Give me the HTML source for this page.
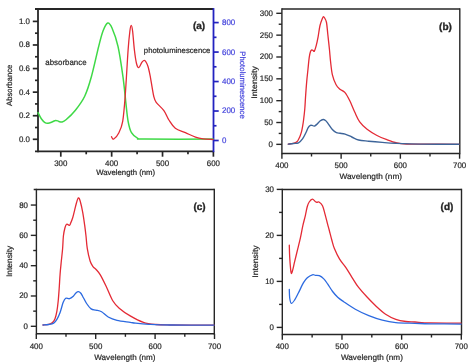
<!DOCTYPE html>
<html><head><meta charset="utf-8"><style>
html,body{margin:0;padding:0;background:#fff;}
svg{display:block;font-family:"Liberation Sans", sans-serif;will-change:transform;text-rendering:geometricPrecision;}
</style></head><body>
<svg width="474" height="364" viewBox="0 0 474 364">
<rect width="474" height="364" fill="#fff"/>
<line x1="32.8" y1="139.3" x2="38" y2="139.3" stroke="#262626" stroke-width="1.7" stroke-linecap="butt"/>
<text x="29.9" y="141.76" font-size="8" text-anchor="end" fill="#262626" font-weight="normal" textLength="11.01" lengthAdjust="spacingAndGlyphs" stroke="#262626" stroke-width="0.2">0.0</text>
<line x1="35" y1="127.51" x2="38" y2="127.51" stroke="#262626" stroke-width="1.7" stroke-linecap="butt"/>
<line x1="32.8" y1="115.72" x2="38" y2="115.72" stroke="#262626" stroke-width="1.7" stroke-linecap="butt"/>
<text x="29.9" y="118.18" font-size="8" text-anchor="end" fill="#262626" font-weight="normal" textLength="11.01" lengthAdjust="spacingAndGlyphs" stroke="#262626" stroke-width="0.2">0.2</text>
<line x1="35" y1="103.93" x2="38" y2="103.93" stroke="#262626" stroke-width="1.7" stroke-linecap="butt"/>
<line x1="32.8" y1="92.14" x2="38" y2="92.14" stroke="#262626" stroke-width="1.7" stroke-linecap="butt"/>
<text x="29.9" y="94.6" font-size="8" text-anchor="end" fill="#262626" font-weight="normal" textLength="11.01" lengthAdjust="spacingAndGlyphs" stroke="#262626" stroke-width="0.2">0.4</text>
<line x1="35" y1="80.35" x2="38" y2="80.35" stroke="#262626" stroke-width="1.7" stroke-linecap="butt"/>
<line x1="32.8" y1="68.56" x2="38" y2="68.56" stroke="#262626" stroke-width="1.7" stroke-linecap="butt"/>
<text x="29.9" y="71.02" font-size="8" text-anchor="end" fill="#262626" font-weight="normal" textLength="11.01" lengthAdjust="spacingAndGlyphs" stroke="#262626" stroke-width="0.2">0.6</text>
<line x1="35" y1="56.77" x2="38" y2="56.77" stroke="#262626" stroke-width="1.7" stroke-linecap="butt"/>
<line x1="32.8" y1="44.98" x2="38" y2="44.98" stroke="#262626" stroke-width="1.7" stroke-linecap="butt"/>
<text x="29.9" y="47.44" font-size="8" text-anchor="end" fill="#262626" font-weight="normal" textLength="11.01" lengthAdjust="spacingAndGlyphs" stroke="#262626" stroke-width="0.2">0.8</text>
<line x1="35" y1="33.19" x2="38" y2="33.19" stroke="#262626" stroke-width="1.7" stroke-linecap="butt"/>
<line x1="32.8" y1="21.4" x2="38" y2="21.4" stroke="#262626" stroke-width="1.7" stroke-linecap="butt"/>
<text x="29.9" y="23.86" font-size="8" text-anchor="end" fill="#262626" font-weight="normal" textLength="11.01" lengthAdjust="spacingAndGlyphs" stroke="#262626" stroke-width="0.2">1.0</text>
<line x1="60.79" y1="151.3" x2="60.79" y2="156.7" stroke="#262626" stroke-width="1.7" stroke-linecap="butt"/>
<text x="60.79" y="165.66" font-size="8" text-anchor="middle" fill="#262626" font-weight="normal" textLength="13.21" lengthAdjust="spacingAndGlyphs" stroke="#262626" stroke-width="0.2">300</text>
<line x1="86.22" y1="151.3" x2="86.22" y2="154.3" stroke="#262626" stroke-width="1.7" stroke-linecap="butt"/>
<line x1="111.66" y1="151.3" x2="111.66" y2="156.7" stroke="#262626" stroke-width="1.7" stroke-linecap="butt"/>
<text x="111.66" y="165.66" font-size="8" text-anchor="middle" fill="#262626" font-weight="normal" textLength="13.21" lengthAdjust="spacingAndGlyphs" stroke="#262626" stroke-width="0.2">400</text>
<line x1="137.09" y1="151.3" x2="137.09" y2="154.3" stroke="#262626" stroke-width="1.7" stroke-linecap="butt"/>
<line x1="162.53" y1="151.3" x2="162.53" y2="156.7" stroke="#262626" stroke-width="1.7" stroke-linecap="butt"/>
<text x="162.53" y="165.66" font-size="8" text-anchor="middle" fill="#262626" font-weight="normal" textLength="13.21" lengthAdjust="spacingAndGlyphs" stroke="#262626" stroke-width="0.2">500</text>
<line x1="187.97" y1="151.3" x2="187.97" y2="154.3" stroke="#262626" stroke-width="1.7" stroke-linecap="butt"/>
<line x1="213.4" y1="151.3" x2="213.4" y2="156.7" stroke="#262626" stroke-width="1.7" stroke-linecap="butt"/>
<text x="213.4" y="165.66" font-size="8" text-anchor="middle" fill="#262626" font-weight="normal" textLength="13.21" lengthAdjust="spacingAndGlyphs" stroke="#262626" stroke-width="0.2">600</text>
<line x1="213.5" y1="140.5" x2="218.7" y2="140.5" stroke="#2323c0" stroke-width="1.7" stroke-linecap="butt"/>
<text x="222" y="142.96" font-size="8" text-anchor="start" fill="#4343dc" font-weight="normal" textLength="4.4" lengthAdjust="spacingAndGlyphs" stroke="#4343dc" stroke-width="0.2">0</text>
<line x1="213.5" y1="125.76" x2="216.5" y2="125.76" stroke="#2323c0" stroke-width="1.7" stroke-linecap="butt"/>
<line x1="213.5" y1="111.02" x2="218.7" y2="111.02" stroke="#2323c0" stroke-width="1.7" stroke-linecap="butt"/>
<text x="222" y="113.48" font-size="8" text-anchor="start" fill="#4343dc" font-weight="normal" textLength="13.21" lengthAdjust="spacingAndGlyphs" stroke="#4343dc" stroke-width="0.2">200</text>
<line x1="213.5" y1="96.28" x2="216.5" y2="96.28" stroke="#2323c0" stroke-width="1.7" stroke-linecap="butt"/>
<line x1="213.5" y1="81.54" x2="218.7" y2="81.54" stroke="#2323c0" stroke-width="1.7" stroke-linecap="butt"/>
<text x="222" y="84" font-size="8" text-anchor="start" fill="#4343dc" font-weight="normal" textLength="13.21" lengthAdjust="spacingAndGlyphs" stroke="#4343dc" stroke-width="0.2">400</text>
<line x1="213.5" y1="66.8" x2="216.5" y2="66.8" stroke="#2323c0" stroke-width="1.7" stroke-linecap="butt"/>
<line x1="213.5" y1="52.06" x2="218.7" y2="52.06" stroke="#2323c0" stroke-width="1.7" stroke-linecap="butt"/>
<text x="222" y="54.52" font-size="8" text-anchor="start" fill="#4343dc" font-weight="normal" textLength="13.21" lengthAdjust="spacingAndGlyphs" stroke="#4343dc" stroke-width="0.2">600</text>
<line x1="213.5" y1="37.32" x2="216.5" y2="37.32" stroke="#2323c0" stroke-width="1.7" stroke-linecap="butt"/>
<line x1="213.5" y1="22.58" x2="218.7" y2="22.58" stroke="#2323c0" stroke-width="1.7" stroke-linecap="butt"/>
<text x="222" y="25.04" font-size="8" text-anchor="start" fill="#4343dc" font-weight="normal" textLength="13.21" lengthAdjust="spacingAndGlyphs" stroke="#4343dc" stroke-width="0.2">800</text>
<line x1="35" y1="9" x2="213.5" y2="9" stroke="#262626" stroke-width="1.8" stroke-linecap="butt"/>
<line x1="35" y1="151.3" x2="213.5" y2="151.3" stroke="#262626" stroke-width="1.7" stroke-linecap="butt"/>
<line x1="38" y1="8.1" x2="38" y2="152.15" stroke="#262626" stroke-width="1.8" stroke-linecap="butt"/>
<line x1="213.5" y1="8.1" x2="213.5" y2="152.15" stroke="#2323c0" stroke-width="1.8" stroke-linecap="butt"/>
<text x="125.7" y="175.14" font-size="7.8" text-anchor="middle" fill="#262626" font-weight="normal" textLength="59" lengthAdjust="spacingAndGlyphs" stroke="#262626" stroke-width="0.2">Wavelength (nm)</text>
<text x="11.84" y="85.3" font-size="7.8" text-anchor="middle" fill="#262626" font-weight="normal" transform="rotate(-90 11.84 85.3)" textLength="41.4" lengthAdjust="spacingAndGlyphs" stroke="#262626" stroke-width="0.2">Absorbance</text>
<text x="240.16" y="85" font-size="7.8" text-anchor="middle" fill="#4343dc" font-weight="normal" transform="rotate(90 240.16 85)" textLength="67.5" lengthAdjust="spacingAndGlyphs" stroke="#4343dc" stroke-width="0.2">Photoluminescence</text>
<text x="199.1" y="28.6" font-size="10" text-anchor="middle" fill="#262626" font-weight="bold" stroke="#262626" stroke-width="0.35">(a)</text>
<text x="65.9" y="65.4" font-size="8" text-anchor="middle" fill="#262626" font-weight="normal" textLength="41.3" lengthAdjust="spacingAndGlyphs" stroke="#262626" stroke-width="0.2">absorbance</text>
<text x="177.1" y="53.14" font-size="7.8" text-anchor="middle" fill="#262626" font-weight="normal" textLength="66.5" lengthAdjust="spacingAndGlyphs" stroke="#262626" stroke-width="0.2">photoluminescence</text>
<path d="M38 112.6 C38.58 113.67 40.33 117.33 41.5 119 C42.67 120.67 43.92 121.9 45 122.6 C46.08 123.3 46.83 123.3 48 123.2 C49.17 123.1 50.72 122.47 52 122 C53.28 121.53 54.57 120.5 55.7 120.4 C56.83 120.3 57.78 121.13 58.8 121.4 C59.82 121.67 60.6 122.27 61.8 122 C63 121.73 63.73 121.77 66 119.8 C68.27 117.83 72.28 114.13 75.4 110.2 C78.52 106.27 82.05 101.73 84.7 96.2 C87.35 90.67 88.97 85.3 91.3 77 C93.63 68.7 96.75 54.07 98.7 46.4 C100.65 38.73 101.5 34.9 103 31 C104.5 27.1 106.2 23.5 107.7 23 C109.2 22.5 110.28 24.1 112 28 C113.72 31.9 116.17 38.23 118 46.4 C119.83 54.57 121.7 67.68 123 77 C124.3 86.32 124.95 94.92 125.8 102.3 C126.65 109.68 127.15 116.23 128.1 121.3 C129.05 126.37 129.88 129.85 131.5 132.7 C133.12 135.55 135.55 137.33 137.8 138.4 C140.05 139.47 132.47 138.98 145 139.1 C157.53 139.22 201.67 139.1 213 139.1" fill="none" stroke="#3ed946" stroke-width="1.5" stroke-linejoin="round" stroke-linecap="round"/>
<path d="M111.5 136.8 C111.88 137.17 112.57 139.68 113.8 139 C115.03 138.32 117.42 135.65 118.9 132.7 C120.38 129.75 121.65 127.42 122.7 121.3 C123.75 115.18 124.3 107.88 125.2 96 C126.1 84.12 127.32 60.83 128.1 50 C128.88 39.17 129.38 35.1 129.9 31 C130.42 26.9 130.75 25.4 131.2 25.4 C131.65 25.4 132.07 26.9 132.6 31 C133.13 35.1 133.75 44.58 134.4 50 C135.05 55.42 135.77 60.57 136.5 63.5 C137.23 66.43 137.92 67.77 138.8 67.6 C139.68 67.43 140.82 63.68 141.8 62.5 C142.78 61.32 143.67 59.83 144.7 60.5 C145.73 61.17 147.03 63.62 148 66.5 C148.97 69.38 149.55 72.88 150.5 77.8 C151.45 82.72 152.75 91.92 153.7 96 C154.65 100.08 154.5 99.87 156.2 102.3 C157.9 104.73 161.78 107.65 163.9 110.6 C166.02 113.55 167 117.05 168.9 120 C170.8 122.95 172.55 126.18 175.3 128.3 C178.05 130.42 182.03 131.23 185.4 132.7 C188.77 134.17 192.55 136.08 195.5 137.1 C198.45 138.12 200.18 138.4 203.1 138.8 C206.02 139.2 211.35 139.38 213 139.5" fill="none" stroke="#e42a35" stroke-width="1.3" stroke-linejoin="round" stroke-linecap="round"/>
<line x1="281.9" y1="9" x2="459.8" y2="9" stroke="#262626" stroke-width="1.4" stroke-linecap="butt"/>
<line x1="281.9" y1="153.5" x2="459.8" y2="153.5" stroke="#262626" stroke-width="1.4" stroke-linecap="butt"/>
<line x1="281.9" y1="8.3" x2="281.9" y2="154.2" stroke="#262626" stroke-width="1.4" stroke-linecap="butt"/>
<line x1="459.8" y1="8.3" x2="459.8" y2="154.2" stroke="#262626" stroke-width="1.4" stroke-linecap="butt"/>
<line x1="276.3" y1="144.35" x2="281.9" y2="144.35" stroke="#262626" stroke-width="1.4" stroke-linecap="butt"/>
<text x="273" y="146.81" font-size="8" text-anchor="end" fill="#262626" font-weight="normal" textLength="4.4" lengthAdjust="spacingAndGlyphs" stroke="#262626" stroke-width="0.2">0</text>
<line x1="278.7" y1="133.43" x2="281.9" y2="133.43" stroke="#262626" stroke-width="1.4" stroke-linecap="butt"/>
<line x1="276.3" y1="122.51" x2="281.9" y2="122.51" stroke="#262626" stroke-width="1.4" stroke-linecap="butt"/>
<text x="273" y="124.97" font-size="8" text-anchor="end" fill="#262626" font-weight="normal" textLength="8.81" lengthAdjust="spacingAndGlyphs" stroke="#262626" stroke-width="0.2">50</text>
<line x1="278.7" y1="111.59" x2="281.9" y2="111.59" stroke="#262626" stroke-width="1.4" stroke-linecap="butt"/>
<line x1="276.3" y1="100.67" x2="281.9" y2="100.67" stroke="#262626" stroke-width="1.4" stroke-linecap="butt"/>
<text x="273" y="103.13" font-size="8" text-anchor="end" fill="#262626" font-weight="normal" textLength="13.21" lengthAdjust="spacingAndGlyphs" stroke="#262626" stroke-width="0.2">100</text>
<line x1="278.7" y1="89.75" x2="281.9" y2="89.75" stroke="#262626" stroke-width="1.4" stroke-linecap="butt"/>
<line x1="276.3" y1="78.83" x2="281.9" y2="78.83" stroke="#262626" stroke-width="1.4" stroke-linecap="butt"/>
<text x="273" y="81.29" font-size="8" text-anchor="end" fill="#262626" font-weight="normal" textLength="13.21" lengthAdjust="spacingAndGlyphs" stroke="#262626" stroke-width="0.2">150</text>
<line x1="278.7" y1="67.91" x2="281.9" y2="67.91" stroke="#262626" stroke-width="1.4" stroke-linecap="butt"/>
<line x1="276.3" y1="56.99" x2="281.9" y2="56.99" stroke="#262626" stroke-width="1.4" stroke-linecap="butt"/>
<text x="273" y="59.45" font-size="8" text-anchor="end" fill="#262626" font-weight="normal" textLength="13.21" lengthAdjust="spacingAndGlyphs" stroke="#262626" stroke-width="0.2">200</text>
<line x1="278.7" y1="46.07" x2="281.9" y2="46.07" stroke="#262626" stroke-width="1.4" stroke-linecap="butt"/>
<line x1="276.3" y1="35.15" x2="281.9" y2="35.15" stroke="#262626" stroke-width="1.4" stroke-linecap="butt"/>
<text x="273" y="37.61" font-size="8" text-anchor="end" fill="#262626" font-weight="normal" textLength="13.21" lengthAdjust="spacingAndGlyphs" stroke="#262626" stroke-width="0.2">250</text>
<line x1="278.7" y1="24.23" x2="281.9" y2="24.23" stroke="#262626" stroke-width="1.4" stroke-linecap="butt"/>
<line x1="276.3" y1="13.31" x2="281.9" y2="13.31" stroke="#262626" stroke-width="1.4" stroke-linecap="butt"/>
<text x="273" y="15.77" font-size="8" text-anchor="end" fill="#262626" font-weight="normal" textLength="13.21" lengthAdjust="spacingAndGlyphs" stroke="#262626" stroke-width="0.2">300</text>
<line x1="281.9" y1="153.5" x2="281.9" y2="158.7" stroke="#262626" stroke-width="1.4" stroke-linecap="butt"/>
<text x="281.9" y="168.06" font-size="8" text-anchor="middle" fill="#262626" font-weight="normal" textLength="13.21" lengthAdjust="spacingAndGlyphs" stroke="#262626" stroke-width="0.2">400</text>
<line x1="311.51" y1="153.5" x2="311.51" y2="156.5" stroke="#262626" stroke-width="1.4" stroke-linecap="butt"/>
<line x1="341.13" y1="153.5" x2="341.13" y2="158.7" stroke="#262626" stroke-width="1.4" stroke-linecap="butt"/>
<text x="341.13" y="168.06" font-size="8" text-anchor="middle" fill="#262626" font-weight="normal" textLength="13.21" lengthAdjust="spacingAndGlyphs" stroke="#262626" stroke-width="0.2">500</text>
<line x1="370.75" y1="153.5" x2="370.75" y2="156.5" stroke="#262626" stroke-width="1.4" stroke-linecap="butt"/>
<line x1="400.36" y1="153.5" x2="400.36" y2="158.7" stroke="#262626" stroke-width="1.4" stroke-linecap="butt"/>
<text x="400.36" y="168.06" font-size="8" text-anchor="middle" fill="#262626" font-weight="normal" textLength="13.21" lengthAdjust="spacingAndGlyphs" stroke="#262626" stroke-width="0.2">600</text>
<line x1="429.98" y1="153.5" x2="429.98" y2="156.5" stroke="#262626" stroke-width="1.4" stroke-linecap="butt"/>
<line x1="459.59" y1="153.5" x2="459.59" y2="158.7" stroke="#262626" stroke-width="1.4" stroke-linecap="butt"/>
<text x="459.59" y="168.06" font-size="8" text-anchor="middle" fill="#262626" font-weight="normal" textLength="13.21" lengthAdjust="spacingAndGlyphs" stroke="#262626" stroke-width="0.2">700</text>
<text x="370.8" y="179.2" font-size="8" text-anchor="middle" fill="#262626" font-weight="normal" textLength="62.5" lengthAdjust="spacingAndGlyphs" stroke="#262626" stroke-width="0.2">Wavelength (nm)</text>
<text x="256.8" y="82.4" font-size="8" text-anchor="middle" fill="#262626" font-weight="normal" transform="rotate(-90 256.8 82.4)" textLength="32.5" lengthAdjust="spacingAndGlyphs" stroke="#262626" stroke-width="0.2">Intensity</text>
<text x="445.5" y="29.7" font-size="10" text-anchor="middle" fill="#262626" font-weight="bold" stroke="#262626" stroke-width="0.35">(b)</text>
<line x1="33.7" y1="189.5" x2="214.3" y2="189.5" stroke="#262626" stroke-width="1.4" stroke-linecap="butt"/>
<line x1="36.4" y1="333.8" x2="214.3" y2="333.8" stroke="#262626" stroke-width="1.4" stroke-linecap="butt"/>
<line x1="36.4" y1="188.8" x2="36.4" y2="334.5" stroke="#262626" stroke-width="1.4" stroke-linecap="butt"/>
<line x1="214.3" y1="188.8" x2="214.3" y2="334.5" stroke="#262626" stroke-width="1.4" stroke-linecap="butt"/>
<line x1="30.8" y1="326.3" x2="36.4" y2="326.3" stroke="#262626" stroke-width="1.4" stroke-linecap="butt"/>
<text x="28" y="328.76" font-size="8" text-anchor="end" fill="#262626" font-weight="normal" textLength="4.4" lengthAdjust="spacingAndGlyphs" stroke="#262626" stroke-width="0.2">0</text>
<line x1="33.2" y1="311.14" x2="36.4" y2="311.14" stroke="#262626" stroke-width="1.4" stroke-linecap="butt"/>
<line x1="30.8" y1="295.99" x2="36.4" y2="295.99" stroke="#262626" stroke-width="1.4" stroke-linecap="butt"/>
<text x="28" y="298.45" font-size="8" text-anchor="end" fill="#262626" font-weight="normal" textLength="8.81" lengthAdjust="spacingAndGlyphs" stroke="#262626" stroke-width="0.2">20</text>
<line x1="33.2" y1="280.83" x2="36.4" y2="280.83" stroke="#262626" stroke-width="1.4" stroke-linecap="butt"/>
<line x1="30.8" y1="265.68" x2="36.4" y2="265.68" stroke="#262626" stroke-width="1.4" stroke-linecap="butt"/>
<text x="28" y="268.14" font-size="8" text-anchor="end" fill="#262626" font-weight="normal" textLength="8.81" lengthAdjust="spacingAndGlyphs" stroke="#262626" stroke-width="0.2">40</text>
<line x1="33.2" y1="250.52" x2="36.4" y2="250.52" stroke="#262626" stroke-width="1.4" stroke-linecap="butt"/>
<line x1="30.8" y1="235.36" x2="36.4" y2="235.36" stroke="#262626" stroke-width="1.4" stroke-linecap="butt"/>
<text x="28" y="237.83" font-size="8" text-anchor="end" fill="#262626" font-weight="normal" textLength="8.81" lengthAdjust="spacingAndGlyphs" stroke="#262626" stroke-width="0.2">60</text>
<line x1="33.2" y1="220.21" x2="36.4" y2="220.21" stroke="#262626" stroke-width="1.4" stroke-linecap="butt"/>
<line x1="30.8" y1="205.05" x2="36.4" y2="205.05" stroke="#262626" stroke-width="1.4" stroke-linecap="butt"/>
<text x="28" y="207.52" font-size="8" text-anchor="end" fill="#262626" font-weight="normal" textLength="8.81" lengthAdjust="spacingAndGlyphs" stroke="#262626" stroke-width="0.2">80</text>
<line x1="36.3" y1="333.8" x2="36.3" y2="339" stroke="#262626" stroke-width="1.4" stroke-linecap="butt"/>
<text x="36.3" y="348.96" font-size="8" text-anchor="middle" fill="#262626" font-weight="normal" textLength="13.21" lengthAdjust="spacingAndGlyphs" stroke="#262626" stroke-width="0.2">400</text>
<line x1="66" y1="333.8" x2="66" y2="336.8" stroke="#262626" stroke-width="1.4" stroke-linecap="butt"/>
<line x1="95.7" y1="333.8" x2="95.7" y2="339" stroke="#262626" stroke-width="1.4" stroke-linecap="butt"/>
<text x="95.7" y="348.96" font-size="8" text-anchor="middle" fill="#262626" font-weight="normal" textLength="13.21" lengthAdjust="spacingAndGlyphs" stroke="#262626" stroke-width="0.2">500</text>
<line x1="125.4" y1="333.8" x2="125.4" y2="336.8" stroke="#262626" stroke-width="1.4" stroke-linecap="butt"/>
<line x1="155.1" y1="333.8" x2="155.1" y2="339" stroke="#262626" stroke-width="1.4" stroke-linecap="butt"/>
<text x="155.1" y="348.96" font-size="8" text-anchor="middle" fill="#262626" font-weight="normal" textLength="13.21" lengthAdjust="spacingAndGlyphs" stroke="#262626" stroke-width="0.2">600</text>
<line x1="184.8" y1="333.8" x2="184.8" y2="336.8" stroke="#262626" stroke-width="1.4" stroke-linecap="butt"/>
<line x1="214.5" y1="333.8" x2="214.5" y2="339" stroke="#262626" stroke-width="1.4" stroke-linecap="butt"/>
<text x="214.5" y="348.96" font-size="8" text-anchor="middle" fill="#262626" font-weight="normal" textLength="13.21" lengthAdjust="spacingAndGlyphs" stroke="#262626" stroke-width="0.2">700</text>
<text x="124.9" y="360.1" font-size="8" text-anchor="middle" fill="#262626" font-weight="normal" textLength="61.2" lengthAdjust="spacingAndGlyphs" stroke="#262626" stroke-width="0.2">Wavelength (nm)</text>
<text x="11.9" y="261.4" font-size="8" text-anchor="middle" fill="#262626" font-weight="normal" transform="rotate(-90 11.9 261.4)" textLength="31.2" lengthAdjust="spacingAndGlyphs" stroke="#262626" stroke-width="0.2">Intensity</text>
<text x="199.6" y="209.8" font-size="10" text-anchor="middle" fill="#262626" font-weight="bold" stroke="#262626" stroke-width="0.35">(c)</text>
<line x1="282.3" y1="189.45" x2="461.5" y2="189.45" stroke="#262626" stroke-width="1.4" stroke-linecap="butt"/>
<line x1="282.3" y1="334.5" x2="461.5" y2="334.5" stroke="#262626" stroke-width="1.4" stroke-linecap="butt"/>
<line x1="282.3" y1="188.75" x2="282.3" y2="335.2" stroke="#262626" stroke-width="1.4" stroke-linecap="butt"/>
<line x1="461.5" y1="188.75" x2="461.5" y2="335.2" stroke="#262626" stroke-width="1.4" stroke-linecap="butt"/>
<line x1="276.7" y1="327.4" x2="282.3" y2="327.4" stroke="#262626" stroke-width="1.4" stroke-linecap="butt"/>
<text x="274" y="329.86" font-size="8" text-anchor="end" fill="#262626" font-weight="normal" textLength="4.4" lengthAdjust="spacingAndGlyphs" stroke="#262626" stroke-width="0.2">0</text>
<line x1="279.1" y1="304.4" x2="282.3" y2="304.4" stroke="#262626" stroke-width="1.4" stroke-linecap="butt"/>
<line x1="276.7" y1="281.4" x2="282.3" y2="281.4" stroke="#262626" stroke-width="1.4" stroke-linecap="butt"/>
<text x="274" y="283.86" font-size="8" text-anchor="end" fill="#262626" font-weight="normal" textLength="8.81" lengthAdjust="spacingAndGlyphs" stroke="#262626" stroke-width="0.2">10</text>
<line x1="279.1" y1="258.4" x2="282.3" y2="258.4" stroke="#262626" stroke-width="1.4" stroke-linecap="butt"/>
<line x1="276.7" y1="235.4" x2="282.3" y2="235.4" stroke="#262626" stroke-width="1.4" stroke-linecap="butt"/>
<text x="274" y="237.86" font-size="8" text-anchor="end" fill="#262626" font-weight="normal" textLength="8.81" lengthAdjust="spacingAndGlyphs" stroke="#262626" stroke-width="0.2">20</text>
<line x1="279.1" y1="212.4" x2="282.3" y2="212.4" stroke="#262626" stroke-width="1.4" stroke-linecap="butt"/>
<line x1="276.7" y1="189.4" x2="282.3" y2="189.4" stroke="#262626" stroke-width="1.4" stroke-linecap="butt"/>
<text x="274" y="191.86" font-size="8" text-anchor="end" fill="#262626" font-weight="normal" textLength="8.81" lengthAdjust="spacingAndGlyphs" stroke="#262626" stroke-width="0.2">30</text>
<line x1="282.3" y1="334.5" x2="282.3" y2="339.7" stroke="#262626" stroke-width="1.4" stroke-linecap="butt"/>
<text x="282.3" y="349.36" font-size="8" text-anchor="middle" fill="#262626" font-weight="normal" textLength="13.21" lengthAdjust="spacingAndGlyphs" stroke="#262626" stroke-width="0.2">400</text>
<line x1="312.13" y1="334.5" x2="312.13" y2="337.5" stroke="#262626" stroke-width="1.4" stroke-linecap="butt"/>
<line x1="341.97" y1="334.5" x2="341.97" y2="339.7" stroke="#262626" stroke-width="1.4" stroke-linecap="butt"/>
<text x="341.97" y="349.36" font-size="8" text-anchor="middle" fill="#262626" font-weight="normal" textLength="13.21" lengthAdjust="spacingAndGlyphs" stroke="#262626" stroke-width="0.2">500</text>
<line x1="371.81" y1="334.5" x2="371.81" y2="337.5" stroke="#262626" stroke-width="1.4" stroke-linecap="butt"/>
<line x1="401.64" y1="334.5" x2="401.64" y2="339.7" stroke="#262626" stroke-width="1.4" stroke-linecap="butt"/>
<text x="401.64" y="349.36" font-size="8" text-anchor="middle" fill="#262626" font-weight="normal" textLength="13.21" lengthAdjust="spacingAndGlyphs" stroke="#262626" stroke-width="0.2">600</text>
<line x1="431.48" y1="334.5" x2="431.48" y2="337.5" stroke="#262626" stroke-width="1.4" stroke-linecap="butt"/>
<line x1="461.31" y1="334.5" x2="461.31" y2="339.7" stroke="#262626" stroke-width="1.4" stroke-linecap="butt"/>
<text x="461.31" y="349.36" font-size="8" text-anchor="middle" fill="#262626" font-weight="normal" textLength="13.21" lengthAdjust="spacingAndGlyphs" stroke="#262626" stroke-width="0.2">700</text>
<text x="371.9" y="360.1" font-size="8" text-anchor="middle" fill="#262626" font-weight="normal" textLength="62" lengthAdjust="spacingAndGlyphs" stroke="#262626" stroke-width="0.2">Wavelength (nm)</text>
<text x="257.6" y="261.5" font-size="8" text-anchor="middle" fill="#262626" font-weight="normal" transform="rotate(-90 257.6 261.5)" textLength="32.3" lengthAdjust="spacingAndGlyphs" stroke="#262626" stroke-width="0.2">Intensity</text>
<text x="447" y="209.8" font-size="10" text-anchor="middle" fill="#262626" font-weight="bold" stroke="#262626" stroke-width="0.35">(d)</text>
<path d="M288.3 144.1 C289.15 143.98 291.92 143.83 293.4 143.4 C294.88 142.97 296.25 142.35 297.2 141.5 C298.15 140.65 298.57 139.35 299.1 138.3 C299.63 137.25 299.98 136.35 300.4 135.2 C300.82 134.05 301.23 132.88 301.6 131.4 C301.97 129.92 302.28 128.12 302.6 126.3 C302.92 124.48 303.13 123.43 303.5 120.5 C303.87 117.57 304.45 112.78 304.8 108.7 C305.15 104.62 305.28 100.52 305.6 96 C305.92 91.48 306.3 86.1 306.7 81.6 C307.1 77.1 307.58 73 308 69 C308.42 65 308.78 60.52 309.2 57.6 C309.62 54.68 310.07 52.78 310.5 51.5 C310.93 50.22 311.35 50.05 311.8 49.9 C312.25 49.75 312.77 50.4 313.2 50.6 C313.63 50.8 313.9 51.92 314.4 51.1 C314.9 50.28 315.58 48.08 316.2 45.7 C316.82 43.32 317.47 40.17 318.1 36.8 C318.73 33.43 319.25 28.63 320 25.5 C320.75 22.37 322.02 19.48 322.6 18 C323.18 16.52 323.18 16.63 323.5 16.6 C323.82 16.57 324 16.82 324.5 17.8 C325 18.78 325.95 19.75 326.5 22.5 C327.05 25.25 327.3 29.72 327.8 34.3 C328.3 38.88 329.05 45.55 329.5 50 C329.95 54.45 330.02 56.85 330.5 61 C330.98 65.15 331.47 70.93 332.4 74.9 C333.33 78.87 334.85 82.42 336.1 84.8 C337.35 87.18 338.45 87.93 339.9 89.2 C341.35 90.47 343.15 90.47 344.8 92.4 C346.45 94.33 348.15 97.53 349.8 100.8 C351.45 104.07 353.05 108.48 354.7 112 C356.35 115.52 357.63 119.02 359.7 121.9 C361.77 124.78 364.22 127.03 367.1 129.3 C369.98 131.57 373.7 133.77 377 135.5 C380.3 137.23 383.6 138.47 386.9 139.7 C390.2 140.93 393.5 142.18 396.8 142.9 C400.1 143.62 402.83 143.8 406.7 144 C410.57 144.2 411.28 144.05 420 144.1 C428.72 144.15 452.5 144.27 459 144.3" fill="none" stroke="#e42a35" stroke-width="1.3" stroke-linejoin="round" stroke-linecap="round"/>
<path d="M288.3 144.1 C289.15 144 291.7 143.72 293.4 143.5 C295.1 143.28 296.95 143.62 298.5 142.8 C300.05 141.98 301.45 140.32 302.7 138.6 C303.95 136.88 305.08 134.33 306 132.5 C306.92 130.67 307.47 128.78 308.2 127.6 C308.93 126.42 309.73 125.77 310.4 125.4 C311.07 125.03 311.53 125.28 312.2 125.4 C312.87 125.52 313.53 126.37 314.4 126.1 C315.27 125.83 316.47 124.65 317.4 123.8 C318.33 122.95 319.05 121.72 320 121 C320.95 120.28 322.18 119.58 323.1 119.5 C324.02 119.42 324.75 119.95 325.5 120.5 C326.25 121.05 326.42 121.25 327.6 122.8 C328.78 124.35 331.13 128.15 332.6 129.8 C334.07 131.45 335.17 132.12 336.4 132.7 C337.63 133.28 338.55 133.07 340 133.3 C341.45 133.53 343.13 133.48 345.1 134.1 C347.07 134.72 349.55 136.02 351.8 137 C354.05 137.98 355.78 139.3 358.6 140 C361.42 140.7 364.77 140.8 368.7 141.2 C372.63 141.6 377.7 142.05 382.2 142.4 C386.7 142.75 389.4 143.02 395.7 143.3 C402 143.58 409.45 143.93 420 144.1 C430.55 144.27 452.5 144.27 459 144.3" fill="none" stroke="#3d6499" stroke-width="1.4" stroke-linejoin="round" stroke-linecap="round"/>
<path d="M43 325 C43.95 324.9 47.12 324.82 48.7 324.4 C50.28 323.98 51.45 323.45 52.5 322.5 C53.55 321.55 54.27 320.6 55 318.7 C55.73 316.8 56.37 314.05 56.9 311.1 C57.43 308.15 57.82 304.8 58.2 301 C58.58 297.2 58.88 292.8 59.2 288.3 C59.52 283.8 59.75 278.5 60.1 274 C60.45 269.5 60.88 265.52 61.3 261.3 C61.72 257.08 62.25 252.92 62.6 248.7 C62.95 244.48 63.02 239.45 63.4 236 C63.78 232.55 64.4 229.93 64.9 228 C65.4 226.07 65.88 224.97 66.4 224.4 C66.92 223.83 67.5 224.43 68 224.6 C68.5 224.77 69 225.53 69.4 225.4 C69.8 225.27 69.85 225.07 70.4 223.8 C70.95 222.53 72 220.05 72.7 217.8 C73.4 215.55 73.97 212.82 74.6 210.3 C75.23 207.78 75.87 204.78 76.5 202.7 C77.13 200.62 77.77 198 78.4 197.8 C79.03 197.6 79.57 199 80.3 201.5 C81.03 204 82.07 208.82 82.8 212.8 C83.53 216.78 84.17 221.53 84.7 225.4 C85.23 229.27 85.57 232.12 86 236 C86.43 239.88 86.62 244.53 87.3 248.7 C87.98 252.87 89.15 258.02 90.1 261 C91.05 263.98 91.97 265.15 93 266.6 C94.03 268.05 95.08 268.33 96.3 269.7 C97.52 271.07 98.68 272.08 100.3 274.8 C101.92 277.52 103.95 281.72 106 286 C108.05 290.28 110.4 296.8 112.6 300.5 C114.8 304.2 116.27 305.63 119.2 308.2 C122.13 310.77 126.17 313.55 130.2 315.9 C134.23 318.25 139.13 320.87 143.4 322.3 C147.67 323.73 151.37 324.05 155.8 324.5 C160.23 324.95 160.3 324.9 170 325 C179.7 325.1 206.67 325.08 214 325.1" fill="none" stroke="#e42a35" stroke-width="1.3" stroke-linejoin="round" stroke-linecap="round"/>
<path d="M43 325 C43.95 324.92 46.92 324.82 48.7 324.5 C50.48 324.18 52.33 323.97 53.7 323.1 C55.07 322.23 55.83 321.08 56.9 319.3 C57.97 317.52 59.05 315.23 60.1 312.4 C61.15 309.57 62.27 304.67 63.2 302.3 C64.13 299.93 64.65 298.8 65.7 298.2 C66.75 297.6 68.23 299.03 69.5 298.7 C70.77 298.37 72.18 297.2 73.3 296.2 C74.42 295.2 75.35 293.45 76.2 292.7 C77.05 291.95 77.67 291.65 78.4 291.7 C79.13 291.75 79.9 292.25 80.6 293 C81.3 293.75 81.6 294.45 82.6 296.2 C83.6 297.95 85.18 301.38 86.6 303.5 C88.02 305.62 89.53 307.8 91.1 308.9 C92.67 310 94.25 309.62 96 310.1 C97.75 310.58 99.57 310.65 101.6 311.8 C103.63 312.95 105.63 315.58 108.2 317 C110.77 318.42 113.33 319.42 117 320.3 C120.67 321.18 127.1 321.82 130.2 322.3 C133.3 322.78 132.45 322.87 135.6 323.2 C138.75 323.53 143.37 324 149.1 324.3 C154.83 324.6 159.18 324.87 170 325 C180.82 325.13 206.67 325.08 214 325.1" fill="none" stroke="#2c6ae0" stroke-width="1.3" stroke-linejoin="round" stroke-linecap="round"/>
<path d="M289.3 245.2 C289.37 247.17 289.48 253.03 289.7 257 C289.92 260.97 290.32 266.25 290.6 269 C290.88 271.75 291.03 273.4 291.4 273.5 C291.77 273.6 292.25 271.63 292.8 269.6 C293.35 267.57 293.87 264.78 294.7 261.3 C295.53 257.82 296.85 252.6 297.8 248.7 C298.75 244.8 299.55 241.78 300.4 237.9 C301.25 234.02 302.07 229.17 302.9 225.4 C303.73 221.63 304.67 218.45 305.4 215.3 C306.13 212.15 306.67 208.72 307.3 206.5 C307.93 204.28 308.35 203.23 309.2 202 C310.05 200.77 311.4 199.2 312.4 199.1 C313.4 199 314.47 200.85 315.2 201.4 C315.93 201.95 316.17 202.3 316.8 202.4 C317.43 202.5 318.05 201.43 319 202 C319.95 202.57 321.5 203.78 322.5 205.8 C323.5 207.82 324.15 211.03 325 214.1 C325.85 217.17 326.9 221.55 327.6 224.2 C328.3 226.85 328.5 227.37 329.2 230 C329.9 232.63 330.93 236.9 331.8 240 C332.67 243.1 333.1 245.4 334.4 248.6 C335.7 251.8 337.68 256.03 339.6 259.2 C341.52 262.37 343.82 264.53 345.9 267.6 C347.98 270.67 350.02 274.33 352.1 277.6 C354.18 280.87 355.95 284 358.4 287.2 C360.85 290.4 363.85 293.63 366.8 296.8 C369.75 299.97 372.97 303.3 376.1 306.2 C379.23 309.1 382.32 312.02 385.6 314.2 C388.88 316.38 392.42 318.08 395.8 319.3 C399.18 320.52 402.7 321.05 405.9 321.5 C409.1 321.95 410.98 321.77 415 322 C419.02 322.23 422.33 322.72 430 322.9 C437.67 323.08 455.83 323.07 461 323.1" fill="none" stroke="#e42a35" stroke-width="1.3" stroke-linejoin="round" stroke-linecap="round"/>
<path d="M289.3 289.5 C289.37 290.92 289.37 295.68 289.7 298 C290.03 300.32 290.47 303.08 291.3 303.4 C292.13 303.72 293.5 301.67 294.7 299.9 C295.9 298.13 297.03 295.67 298.5 292.8 C299.97 289.93 302.03 285.2 303.5 282.7 C304.97 280.2 305.82 279.12 307.3 277.8 C308.78 276.48 311.03 275.22 312.4 274.8 C313.77 274.38 314.35 275.15 315.5 275.3 C316.65 275.45 317.92 275.1 319.3 275.7 C320.68 276.3 322.42 277.53 323.8 278.9 C325.18 280.27 326.13 281.8 327.6 283.9 C329.07 286 330.92 289.28 332.6 291.5 C334.28 293.72 335.9 295.53 337.7 297.2 C339.5 298.87 340.47 299.48 343.4 301.5 C346.33 303.52 351.07 306.93 355.3 309.3 C359.53 311.67 364.3 313.88 368.8 315.7 C373.3 317.52 377.8 319.05 382.3 320.2 C386.8 321.35 390.35 322.08 395.8 322.6 C401.25 323.12 409.3 323.1 415 323.3 C420.7 323.5 422.33 323.67 430 323.8 C437.67 323.93 455.83 324.05 461 324.1" fill="none" stroke="#2c6ae0" stroke-width="1.3" stroke-linejoin="round" stroke-linecap="round"/>
</svg>
</body></html>
